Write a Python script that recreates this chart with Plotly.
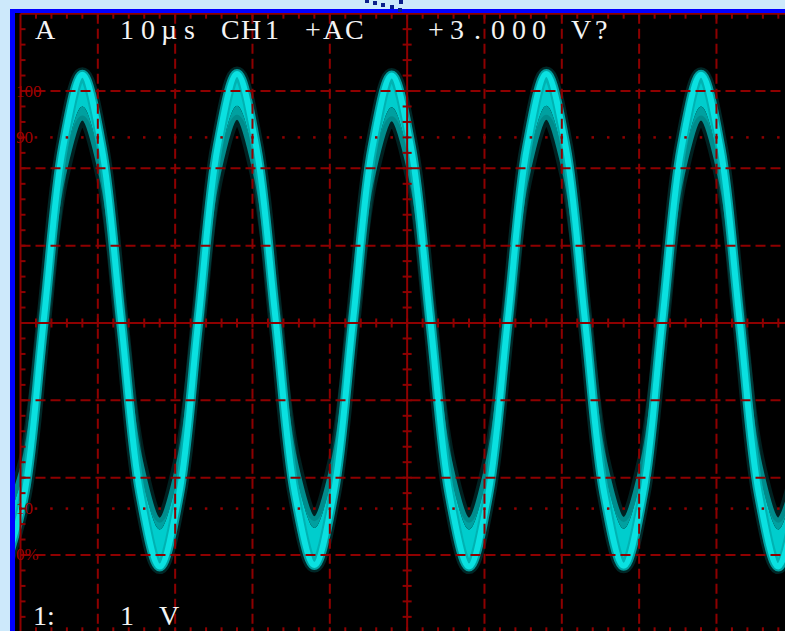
import plotly.graph_objects as go

W, H = 785, 631

# ---------------- data read from the scope screen ----------------
# time in microseconds (10 us / div), amplitude in divisions (1 V / div)
t_us = [-2.0, 0.5, 3.0, 5.5, 8.0, 10.5, 13.0, 15.5,
        18.0, 20.5, 23.0, 25.5, 28.0, 30.5, 33.0, 35.5,
        38.0, 40.5, 43.0, 45.5, 48.0, 50.5, 53.0, 55.5,
        58.0, 60.5, 63.0, 65.5, 68.0, 70.5, 73.0, 75.5,
        78.0, 80.5, 83.0, 85.5, 88.0, 90.5, 93.0, 95.5,
        98.0, 100.5]
# outer edge of the trace band
outer_div = [-3.14, -2.21, 0.03, 2.27, 3.21, 2.27, 0.03, -2.21,
             -3.15, -2.22, 0.03, 2.28, 3.22, 2.27, 0.04, -2.21,
             -3.13, -2.20, 0.03, 2.26, 3.20, 2.27, 0.03, -2.22,
             -3.15, -2.21, 0.02, 2.27, 3.22, 2.28, 0.03, -2.21,
             -3.14, -2.21, 0.03, 2.27, 3.21, 2.27, 0.03, -2.22,
             -3.15, -2.21]
# boundary between the bright and the dimmer part of the band
mid_div = [-2.66, -1.86, 0.07, 2.00, 2.80, 2.00, 0.07, -1.86,
           -2.67, -1.87, 0.07, 2.01, 2.81, 2.00, 0.07, -1.86,
           -2.65, -1.86, 0.06, 2.00, 2.79, 2.00, 0.07, -1.87,
           -2.67, -1.86, 0.07, 2.01, 2.81, 2.01, 0.07, -1.86,
           -2.66, -1.86, 0.07, 2.00, 2.80, 2.00, 0.07, -1.87,
           -2.67, -1.86]
# inner edge of the trace band
inner_div = [-2.54, -1.78, 0.06, 1.89, 2.65, 1.89, 0.06, -1.78,
             -2.55, -1.79, 0.06, 1.90, 2.66, 1.89, 0.06, -1.78,
             -2.53, -1.78, 0.05, 1.89, 2.64, 1.89, 0.06, -1.79,
             -2.55, -1.78, 0.06, 1.90, 2.66, 1.90, 0.06, -1.78,
             -2.54, -1.78, 0.06, 1.89, 2.65, 1.89, 0.06, -1.79,
             -2.55, -1.78]

x_div_lines = [10, 20, 30, 40, 60, 70, 80, 90]   # us
y_div_lines = [-3, -2, -1, 1, 2, 3]              # div
x_center, y_center = 50, 0
x_edge, y_top, y_bottom = 0, 4, -4
x_right = 100
ref_levels = [2.4, -2.4]                          # 90 % / 10 %
level_labels = ["100", "90", "10", "0%"]
level_label_y = [3, 2.4, -2.4, -3]
top_text = "A   10µs CH1 +AC   +3.000 V?"
bottom_left_text = "1:"
bottom_text = "    1 V"

# ---------------- screen geometry ----------------
X0_PX, Y0_PX = 20.5, 323.0
PX_PER_DIV = 77.33
PX_PER_US = PX_PER_DIV / 10.0
xr = [-X0_PX / PX_PER_US, (W - X0_PX) / PX_PER_US]
yr = [-(H - Y0_PX) / PX_PER_DIV, Y0_PX / PX_PER_DIV]


def px(x):
    return x / W


def py(y):
    return 1 - y / H


GRID = "#8e0000"
CYAN = "rgb(10,225,225)"

fig = go.Figure()

common = dict(mode="lines", line_shape="spline", hoverinfo="skip", showlegend=False)

# glow
fig.add_trace(go.Scatter(x=t_us, y=outer_div, line=dict(color="rgba(0,130,130,0.30)", width=15), **common))
fig.add_trace(go.Scatter(x=t_us, y=inner_div, line=dict(color="rgba(0,110,110,0.30)", width=12), **common))
# band fills
fig.add_trace(go.Scatter(x=t_us, y=outer_div, line=dict(color="rgba(0,0,0,0)", width=0), **common))
fig.add_trace(go.Scatter(x=t_us, y=mid_div, line=dict(color="rgba(0,0,0,0)", width=0),
                         fill="tonexty", fillcolor="rgb(0,205,205)", **common))
fig.add_trace(go.Scatter(x=t_us, y=inner_div, line=dict(color="rgba(0,0,0,0)", width=0),
                         fill="tonexty", fillcolor="rgb(0,160,160)", **common))
# core lines
fig.add_trace(go.Scatter(x=t_us, y=inner_div, line=dict(color="rgb(0,140,140)", width=5), **common))
fig.add_trace(go.Scatter(x=t_us, y=outer_div, line=dict(color="rgba(0,175,175,0.9)", width=10), **common))
fig.add_trace(go.Scatter(x=t_us, y=outer_div, line=dict(color=CYAN, width=6), **common))

# ---------------- graticule (drawn over the trace) ----------------
dx, dy = [], []
for xv in x_div_lines:
    dx += [xv, xv, None]
    dy += [y_top, y_bottom, None]
for yv in y_div_lines:
    dx += [x_edge, x_right, None]
    dy += [yv, yv, None]
fig.add_trace(go.Scatter(x=dx, y=dy, mode="lines", hoverinfo="skip", showlegend=False,
                         line=dict(color=GRID, width=2, dash="10px,5px")))

sx = [x_center, x_center, None, x_edge, x_right, None, x_edge, x_edge, None,
      x_edge, x_right, None, x_edge, x_right, None]
sy = [y_top, y_bottom, None, y_center, y_center, None, y_top, y_bottom, None,
      y_top, y_top, None, y_bottom, y_bottom, None]
fig.add_trace(go.Scatter(x=sx, y=sy, mode="lines", hoverinfo="skip", showlegend=False,
                         line=dict(color=GRID, width=2)))

minor_x = [2 * k for k in range(1, 50)]
minor_y = [round(0.2 * k, 1) for k in range(-19, 20)]
ht_c = 4.5 / PX_PER_DIV      # half tick on centre horizontal line (div)
wt_c = 4.5 / PX_PER_US       # half tick on centre vertical line (us)
t_edge_y = 5 / PX_PER_DIV
t_edge_x = 5 / PX_PER_US
tx, ty = [], []
for xv in minor_x:
    tx += [xv, xv, None, xv, xv, None, xv, xv, None]
    ty += [y_center - ht_c, y_center + ht_c, None,
           y_top, y_top - t_edge_y, None,
           y_bottom, y_bottom + t_edge_y, None]
for yv in minor_y:
    tx += [x_center - wt_c, x_center + wt_c, None, x_edge, x_edge + t_edge_x, None]
    ty += [yv, yv, None, yv, yv, None]
fig.add_trace(go.Scatter(x=tx, y=ty, mode="lines", hoverinfo="skip", showlegend=False,
                         line=dict(color=GRID, width=2)))

ddx, ddy = [], []
for lv in ref_levels:
    for xv in range(0, 101, 2):
        ddx.append(xv)
        ddy.append(lv)
fig.add_trace(go.Scatter(x=ddx, y=ddy, mode="markers", hoverinfo="skip", showlegend=False,
                         marker=dict(symbol="square", size=2.5, color=GRID, line=dict(width=0))))

# ---------------- bezel ----------------
LIGHT = "#cde9fb"
BLUE = "#0000ff"
shapes = [
    dict(type="rect", xref="paper", yref="paper", x0=0, x1=1, y0=py(9), y1=1,
         fillcolor=LIGHT, line=dict(width=0), layer="above"),
    dict(type="rect", xref="paper", yref="paper", x0=0, x1=px(10), y0=0, y1=1,
         fillcolor=LIGHT, line=dict(width=0), layer="above"),
    dict(type="rect", xref="paper", yref="paper", x0=px(10), x1=1, y0=py(13), y1=py(9),
         fillcolor=BLUE, line=dict(width=0), layer="above"),
    dict(type="rect", xref="paper", yref="paper", x0=px(10), x1=px(15), y0=0, y1=py(9),
         fillcolor=BLUE, line=dict(width=0), layer="above"),
]
for (cx, cy) in [(367, 1), (375, 3), (383, 5), (392, 7), (400, 10), (401, 2)]:
    shapes.append(dict(type="rect", xref="paper", yref="paper",
                       x0=px(cx - 2), x1=px(cx + 2), y0=py(cy + 2), y1=py(cy - 2),
                       fillcolor="#0b1f8c", line=dict(width=0), layer="above"))

# ---------------- texts ----------------
ann = []
WHITE = "#f4f4f4"
for i, ch in enumerate(top_text):
    if ch == " ":
        continue
    ann.append(dict(x=px(45 + 20.6 * i), y=py(29), xref="paper", yref="paper",
                    text=ch, showarrow=False, xanchor="center", yanchor="middle",
                    font=dict(family="Liberation Serif", size=28, color=WHITE)))
ann.append(dict(x=px(44), y=py(615), xref="paper", yref="paper", text=bottom_left_text,
                showarrow=False, xanchor="center", yanchor="middle",
                font=dict(family="Liberation Serif", size=28, color=WHITE)))
for i, ch in enumerate(bottom_text):
    if ch == " ":
        continue
    ann.append(dict(x=px(45 + 20.6 * i), y=py(615), xref="paper", yref="paper",
                    text=ch, showarrow=False, xanchor="center", yanchor="middle",
                    font=dict(family="Liberation Serif", size=28, color=WHITE)))
for lab, lv in zip(level_labels, level_label_y):
    ann.append(dict(x=px(14), y=lv, xref="paper", yref="y", text=lab, showarrow=False,
                    xanchor="left", yanchor="middle",
                    font=dict(family="Liberation Serif", size=17, color="#a00000")))

fig.update_layout(
    width=W, height=H,
    margin=dict(l=0, r=0, t=0, b=0, pad=0, autoexpand=False),
    paper_bgcolor=LIGHT, plot_bgcolor="black",
    xaxis=dict(range=xr, visible=False, fixedrange=True),
    yaxis=dict(range=yr, visible=False, fixedrange=True),
    shapes=shapes, annotations=ann, showlegend=False,
)

fig.write_html(
    "out.html",
    config={"displayModeBar": False, "staticPlot": True},
    post_script="document.body.style.margin='0px';document.body.style.overflow='hidden';"
                "document.body.style.background='#cde9fb';",
)
